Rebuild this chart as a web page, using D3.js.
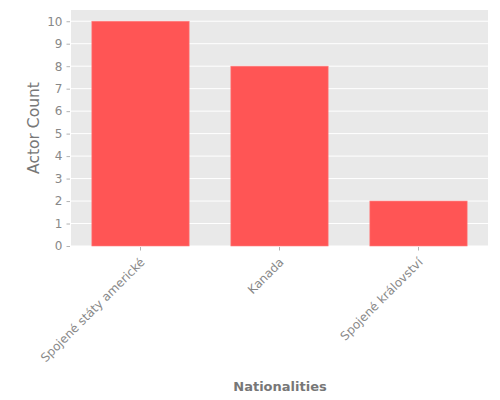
<!DOCTYPE html>
<html><head><meta charset="utf-8">
<script src="https://cdn.jsdelivr.net/npm/d3@7"></script>
<style>body{margin:0;background:#fff}svg{display:block;font-family:"DejaVu Sans",sans-serif}</style>
</head><body><svg id="c" width="500" height="400"></svg>
<script>
const categories = ["Spojené státy americké", "Kanada", "Spojené království"];
const actorCounts = [10, 8, 2];
const yTicks = [0,1,2,3,4,5,6,7,8,9,10];

const svg = d3.select("#c");
const L = 71, R = 488, T = 10, B = 246;
const x = d3.scaleBand().domain(categories).range([L, R]).paddingInner(0.3).paddingOuter(0.15);
const y = d3.scaleLinear().domain([0, 10.5]).range([B, T]);

svg.append("rect").attr("x", L).attr("y", T).attr("width", R - L).attr("height", B - T).attr("fill", "#e9e9e9");

svg.append("g").selectAll("line").data(yTicks).join("line")
  .attr("x1", L).attr("x2", R).attr("y1", d => y(d)).attr("y2", d => y(d))
  .attr("stroke", "#fff").attr("stroke-width", 1);

svg.append("g").selectAll("rect").data(categories).join("rect")
  .attr("x", d => x(d)).attr("width", x.bandwidth())
  .attr("y", (d, i) => y(actorCounts[i])).attr("height", (d, i) => B - y(actorCounts[i]))
  .attr("fill", "#ff5555").attr("stroke", "#ff8080").attr("stroke-width", 0.6);

const yAxis = svg.append("g").attr("transform", `translate(${L - 1},0)`)
  .call(d3.axisLeft(y).tickValues(yTicks).tickSize(3.5).tickPadding(4));
const xAxis = svg.append("g").attr("transform", `translate(0,${B + 1})`)
  .call(d3.axisBottom(x).tickSize(3.5).tickPadding(4));
[yAxis, xAxis].forEach(a => {
  a.select(".domain").remove();
  a.selectAll(".tick line").attr("stroke", "#a0a0a0").attr("stroke-width", 0.8);
  a.selectAll(".tick text").attr("fill", "#888888").style("font-size", "12px").style("font-family", "DejaVu Sans");
});
xAxis.selectAll(".tick text")
  .attr("text-anchor", "end").attr("dy", null).attr("y", 0)
  .attr("transform", "translate(5,16) rotate(-45)");

svg.append("text").attr("transform", `translate(38.5,${(T + B) / 2}) rotate(-90)`)
  .attr("text-anchor", "middle").attr("fill", "#777777")
  .style("font-size", "15.5px").text("Actor Count");
svg.append("text").attr("x", 280).attr("y", 390.5)
  .attr("text-anchor", "middle").attr("fill", "#777777")
  .style("font-size", "13px").style("font-weight", "bold").text("Nationalities");
</script></body></html>
